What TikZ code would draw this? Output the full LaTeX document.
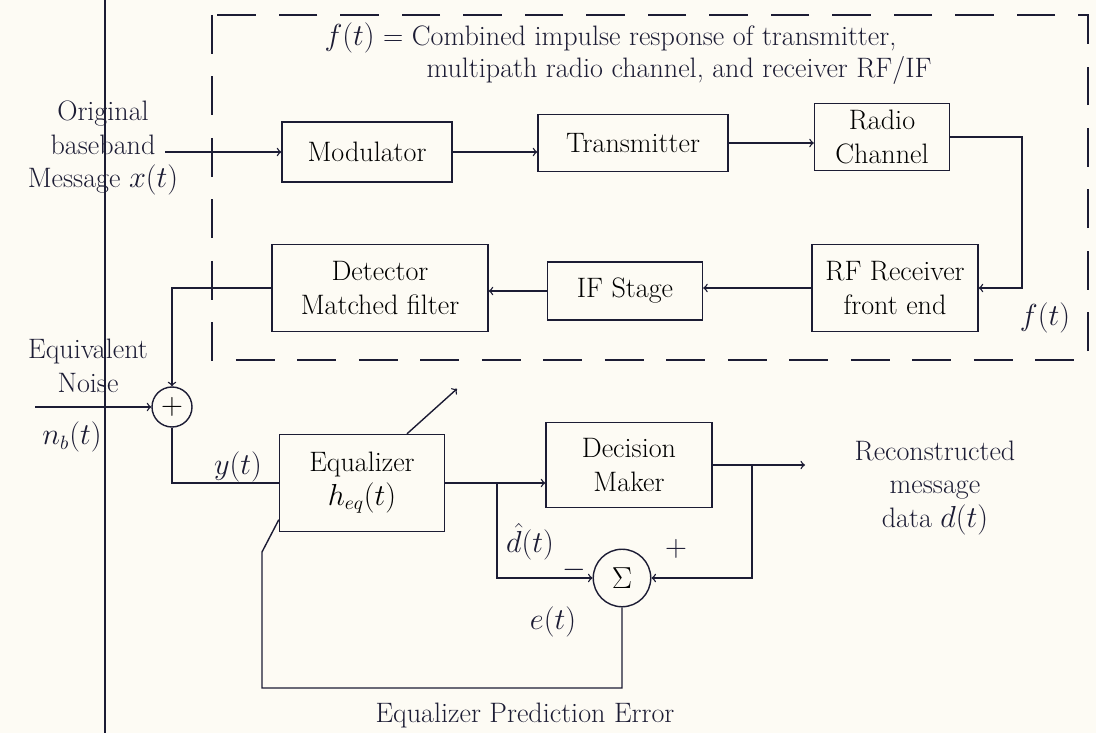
\documentclass[tikz,border=0pt]{standalone}
\usepackage{tikz}
\usetikzlibrary{calc}

\definecolor{paper}{RGB}{253,251,244}
\definecolor{ink}{RGB}{28,28,52}

\tikzset{
  blockbox/.style={draw=ink, thick, align=center, inner sep=2pt},
  sumnode/.style={draw=ink, thick, circle, inner sep=0pt},
  lbl/.style={text=ink, align=center},
}

\begin{document}
\begin{tikzpicture}[x=0.02cm, y=-0.02cm, font=\fontsize{16}{19}\selectfont, thick, draw=ink]
  % Paper and margin
  \fill[paper] (0,0) rectangle (1096,733);
  \useasboundingbox (0,0) rectangle (1096,733);
  \draw[ink, semithick] (105,0) -- (105,733);

  % Dashed region for f(t)
  \draw[ink, dashed, dash pattern=on 22pt off 13pt] (212,15) rectangle (1088,360);
  \node[lbl, anchor=west] (title1) at (318,38) {$f(t)$ = Combined impulse response of transmitter,};
  \node[lbl, anchor=west] (title2) at (420,70) {multipath radio channel, and receiver RF/IF};

  % Transmit chain
  \node[blockbox, minimum width=3.4cm, minimum height=1.2cm] (mod) at (367,152) {Modulator};
  \node[blockbox, minimum width=3.8cm, minimum height=1.14cm] (tx) at (633,143) {Transmitter};
  \node[blockbox, minimum width=2.7cm, minimum height=1.34cm] (chan) at (882,137) {Radio\\Channel};

  % Receive chain
  \node[blockbox, minimum width=3.32cm, minimum height=1.74cm] (rf) at (895,288) {RF Receiver\\front end};
  \node[blockbox, minimum width=3.1cm, minimum height=1.16cm] (ifs) at (625,291) {IF Stage};
  \node[blockbox, minimum width=4.32cm, minimum height=1.74cm] (det) at (380,288) {Detector\\Matched filter};

  % Equalizer part
  \node[sumnode, minimum size=0.8cm] (sum) at (172,407) {$+$};
  \node[blockbox, minimum width=3.3cm, minimum height=1.94cm] (eq) at (362,483) {Equalizer\\$h_{eq}(t)$};
  \node[blockbox, minimum width=3.32cm, minimum height=1.7cm] (dec) at (629,465) {Decision\\Maker};
  \node[sumnode, minimum size=1.15cm] (sig) at (622,578) {$\Sigma$};

  % Free ends
  \coordinate (msgin) at (165,152);
  \coordinate (noisein) at (35,407);
  \coordinate (dout) at (805,465);
  \coordinate (tap1) at (497,483);
  \coordinate (tap2) at (752,465);
  \coordinate (fbleft) at (262,688);

  % Connections
  \draw[->] (msgin) -- (mod.west);
  \draw[->] (mod.east) -- (mod.east -| tx.west);
  \draw[->] (tx.east) -- (tx.east -| chan.west);
  \draw[->] (chan.east) -- ++(72,0) |- (rf.east);
  \draw[->] (rf.west) -- (rf.west -| ifs.east);
  \draw[->] (ifs.west) -- (ifs.west -| det.east);
  \draw[->] (det.west) -| (sum.north);
  \draw[->] (noisein) -- (sum.west);
  \draw (sum.south) |- (eq.west);
  \draw[->] (eq.east) -- (eq.east -| dec.west);
  \draw[->] (tap1) |- (sig.west);
  \draw[->] (dec.east) -- (dout);
  \draw[->] (tap2) |- (sig.east);
  \draw (sig.south) |- (fbleft) -- ++(0,-136) -- ([yshift=0.25cm]eq.south west);
  \draw[->] ([xshift=0.9cm]eq.north) -- ++(50,-45);

  % Labels
  \node[lbl] (msgtext) at (103,148) {Original\\baseband\\Message $x(t)$};
  \node[lbl] (noisetext) at (88,366) {Equivalent\\Noise};
  \node[lbl] (nbtext) at (72,437) {$n_b(t)$};
  \node[lbl] (ytext) at (238,467) {$y(t)$};
  \node[lbl, inner sep=1pt] (dhat) at (530,542) {$\hat{d}(t)$};
  \node[lbl] (minus) at (574,570) {$-$};
  \node[lbl] (plus) at (676,549) {$+$};
  \node[lbl] (etext) at (553,622) {$e(t)$};
  \node[lbl] (errtext) at (525,715) {Equalizer Prediction Error};
  \node[lbl] (outtext) at (935,488) {Reconstructed\\message\\data $d(t)$};
  \node[lbl] (ftext) at (1045,318) {$f(t)$};
\end{tikzpicture}
\end{document}
